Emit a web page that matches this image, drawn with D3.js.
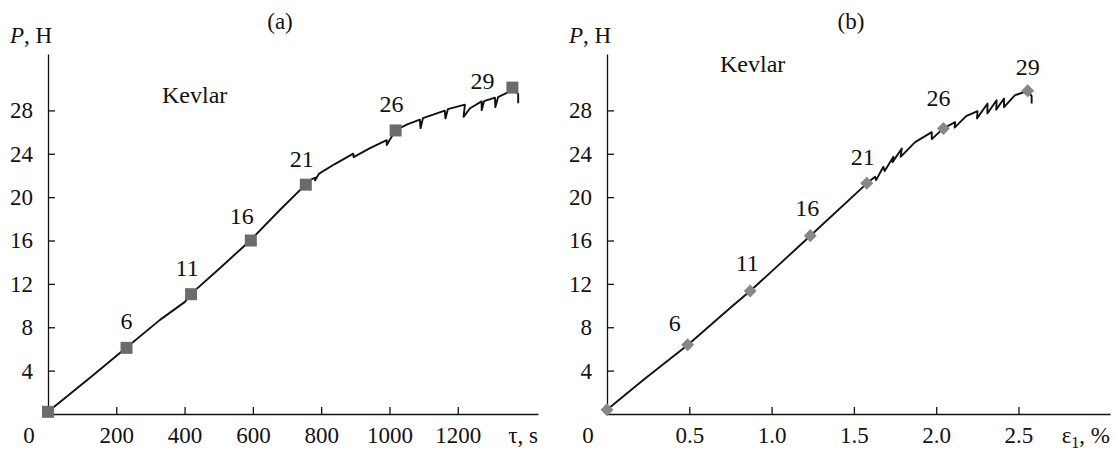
<!DOCTYPE html>
<html>
<head>
<meta charset="utf-8">
<script src="https://cdn.jsdelivr.net/npm/d3@7"></script>
<style>
  body { margin: 0; background: #fff; }
  svg, svg text { font-family: 'Liberation Serif', 'DejaVu Serif', serif !important; }
  svg text { fill: #111; }
  .axis path, .axis line { stroke: #111; stroke-width: 1.3; }
  .axis text { font-size: 23px; }
</style>
</head>
<body>
<div id="chart"></div>
<script>
// point numbers shown above the markers (the first one carries no label)
const pointNumbers = [1, 6, 11, 16, 21, 26, 29];

// (a) load vs time
const timeMarkers = [0, 230, 419, 594, 755, 1018, 1360];
const loadMarkersA = [0.2, 6.1, 11.05, 16.0, 21.15, 26.15, 30.1];
const curveA = [
    [0, 0.2], [123, 3.35], [230, 6.13], [328, 8.68], [401, 10.34], [419, 11.08],
    [504, 13.47], [594, 16.05], [679, 18.81], [755, 21.18], [773, 21.67],
    [783, 21.8], [782, 21.53], [794, 22.17], [840, 23.05], [894, 24.01],
    [895, 23.69], [943, 24.52], [992, 25.26], [992, 24.8], [1018, 26.18],
    [1054, 26.73], [1089, 27.15], [1091, 26.36], [1098, 27.28], [1162, 27.97],
    [1164, 27.26], [1171, 28.11], [1221, 28.53], [1217, 27.4], [1236, 28.2],
    [1270, 28.83], [1270, 28.02], [1277, 28.85], [1309, 29.17], [1310, 28.3],
    [1318, 29.22], [1348, 29.68], [1360, 29.9], [1370, 29.77], [1377, 29.49],
    [1377, 28.66]
];
const timeTicks = [200, 400, 600, 800, 1000, 1200];

// (b) load vs strain
const strainMarkers = [0, 0.49, 0.87, 1.235, 1.578, 2.044, 2.556];
const loadMarkersB = [0.4, 6.38, 11.35, 16.45, 21.27, 26.33, 29.8];
const curveB = [
    [0, 0.4], [0.222, 3.16], [0.492, 6.38], [0.769, 10.06], [0.87, 11.35],
    [1.032, 13.59], [1.234, 16.42], [1.579, 21.27], [1.629, 21.88], [1.635, 21.57],
    [1.679, 22.8], [1.687, 22.4], [1.74, 23.72], [1.735, 23.23], [1.791, 24.49],
    [1.784, 23.72], [1.872, 25.07], [1.973, 25.99], [1.973, 25.35], [2.044, 26.34],
    [2.115, 26.91], [2.112, 26.41], [2.182, 27.47], [2.251, 27.93], [2.248, 27.26],
    [2.312, 28.64], [2.311, 27.72], [2.367, 28.94], [2.365, 28.07], [2.412, 29.1],
    [2.412, 28.3], [2.479, 29.4], [2.556, 29.8], [2.58, 29.31], [2.58, 28.64]
];
const strainTicks = [0.5, 1.0, 1.5, 2.0, 2.5];

const loadTicks = [4, 8, 12, 16, 20, 24, 28];

const serif = "'Liberation Serif', 'DejaVu Serif', serif";

const svg = d3.select("#chart").append("svg")
    .attr("width", 1115)
    .attr("height", 452)
    .attr("font-family", serif);

class LoadPanel {

    constructor(_svg, _opts) {
        this.svg = _svg;
        this.opts = _opts;
        this.initVis();
    }

    initVis() {
        let vis = this;
        let o = vis.opts;

        vis.x = d3.scaleLinear().domain(o.xDomain).range(o.xRange);
        vis.y = d3.scaleLinear().domain([0, 33.2]).range([414, 54]);

        vis.g = vis.svg.append("g");

        // axes, ticks pointing inwards
        vis.g.append("g")
            .attr("class", "axis")
            .attr("transform", "translate(0," + vis.y(0) + ")")
            .call(d3.axisBottom(vis.x)
                .tickValues(o.xTicks)
                .tickFormat(o.xFormat)
                .tickSizeInner(-7)
                .tickSizeOuter(0)
                .tickPadding(13));

        vis.g.append("g")
            .attr("class", "axis")
            .attr("transform", "translate(" + vis.x(0) + ",0)")
            .call(d3.axisLeft(vis.y)
                .tickValues(loadTicks)
                .tickSizeInner(-7)
                .tickSizeOuter(0)
                .tickPadding(15));

        vis.g.selectAll(".axis").attr("font-family", serif);

        // shared origin label
        vis.g.append("text")
            .attr("x", vis.x(0) - 19)
            .attr("y", 443)
            .attr("text-anchor", "middle")
            .style("font-size", "23px")
            .text("0");

        // y title
        let yt = vis.g.append("text")
            .attr("x", vis.x(0) - 38)
            .attr("y", 43)
            .style("font-size", "23px");
        yt.append("tspan").style("font-style", "italic").text("P");
        yt.append("tspan").text(", H");

        // x title
        o.xTitle(vis.g.append("text")
            .attr("x", o.xRange[1])
            .attr("y", 443)
            .attr("text-anchor", "end")
            .style("font-size", "23px"));

        vis.g.append("text")
            .attr("x", o.tagX)
            .attr("y", 29)
            .attr("text-anchor", "middle")
            .style("font-size", "23px")
            .text(o.tag);

        vis.g.append("text")
            .attr("x", o.kevlarX)
            .attr("y", o.kevlarY)
            .style("font-size", "24px")
            .text("Kevlar");

        vis.updateVis();
    }

    updateVis() {
        let vis = this;
        let o = vis.opts;

        let line = d3.line()
            .x(d => vis.x(d[0]))
            .y(d => vis.y(d[1]));

        vis.g.append("path")
            .datum(o.curve)
            .attr("fill", "none")
            .attr("stroke", "#111")
            .attr("stroke-width", 1.9)
            .attr("stroke-linejoin", "round")
            .attr("d", line);

        let pts = pointNumbers.map((n, i) => ({ n: n, x: o.mx[i], y: o.my[i] }));

        vis.g.selectAll(".marker")
            .data(pts)
            .enter().append("path")
            .attr("class", "marker")
            .attr("transform", d => "translate(" + vis.x(d.x) + "," + vis.y(d.y) + ")" + (o.diamond ? " rotate(45)" : ""))
            .attr("d", o.diamond ? "M-4.6,-4.6H4.6V4.6H-4.6Z" : "M-6,-6H6V6H-6Z")
            .attr("fill", o.markerColor);

        vis.g.selectAll(".plabel")
            .data(pts.filter(d => d.n > 1))
            .enter().append("text")
            .attr("class", "plabel")
            .attr("x", d => vis.x(d.x) + (o.nudge[d.n] ? o.nudge[d.n][0] : -4))
            .attr("y", d => vis.y(d.y) + (o.nudge[d.n] ? o.nudge[d.n][1] : -18))
            .attr("text-anchor", "middle")
            .style("font-size", "24px")
            .text(d => d.n);
    }
}

new LoadPanel(svg, {
    xDomain: [0, 1435], xRange: [48, 538],
    xTicks: timeTicks, xFormat: d3.format("d"),
    curve: curveA, mx: timeMarkers, my: loadMarkersA,
    diamond: false, markerColor: "#6b6b6b",
    tag: "(a)", tagX: 280, kevlarX: 162, kevlarY: 103,
    nudge: { 6: [0, -19], 16: [-9, -17], 29: [-30, 1] },
    xTitle: t => t.text("τ, s")
});

new LoadPanel(svg, {
    xDomain: [0, 3.056], xRange: [607, 1110],
    xTicks: strainTicks, xFormat: d3.format(".1f"),
    curve: curveB, mx: strainMarkers, my: loadMarkersB,
    diamond: true, markerColor: "#878787",
    tag: "(b)", tagX: 851, kevlarX: 720, kevlarY: 72,
    nudge: { 6: [-13, -14], 11: [-3, -20], 16: [-3, -20], 26: [-5, -22], 29: [0, -16] },
    xTitle: t => {
        t.append("tspan").text("ε");
        t.append("tspan").attr("dy", 5).style("font-size", "16px").text("1");
        t.append("tspan").attr("dy", -5).text(", %");
    }
});
</script>
</body>
</html>
